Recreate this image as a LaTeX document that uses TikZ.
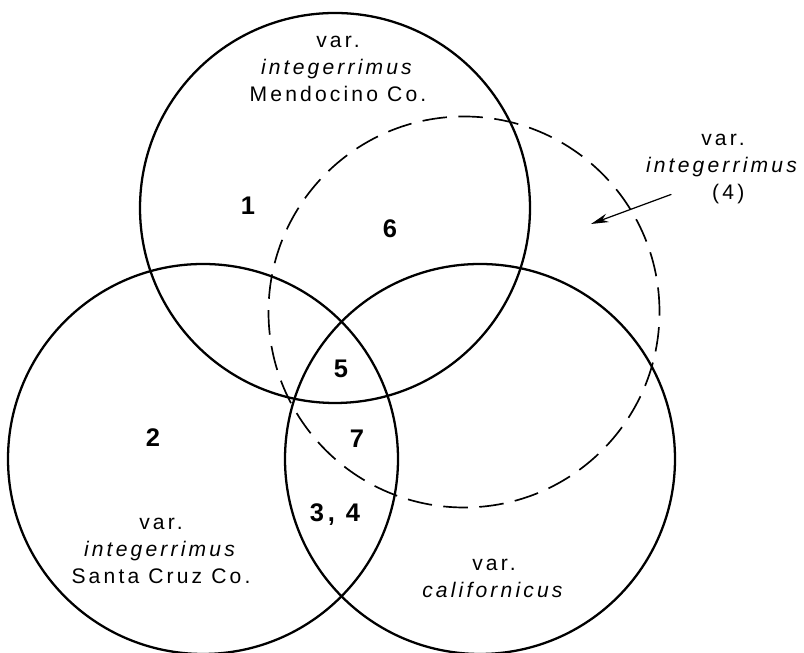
\documentclass[tikz,border=0pt]{standalone}
\usepackage{fontspec}
\setmainfont{Liberation Sans}[LetterSpace=15]
\usepackage{tikz,tkz-euclide}
\usetikzlibrary{arrows.meta}

\begin{document}
\begin{tikzpicture}[>={Stealth[length=10pt,width=5pt]}, line join=round, line cap=round,
	circ/.style={line width=1.3pt},
	dcirc/.style={line width=0.95pt, line cap=butt, dash pattern=on 14pt off 6.5pt},
	lab/.style={align=center, inner sep=0pt, font=\fontsize{12}{15.3}\selectfont},
	num/.style={inner sep=0pt, font=\fontsize{14.5}{16}\selectfont\bfseries}]
	\useasboundingbox (0,0) rectangle (16.08,13.06);
	\tkzDefPoints{6.70/8.90/T,4.06/3.88/L,9.60/3.88/R,9.28/6.82/D}
	\draw[circ] (T) circle (3.9);   % Mendocino Co.
	\draw[circ] (L) circle (3.9);   % Santa Cruz Co.
	\draw[circ] (R) circle (3.9);   % californicus
	\draw[dcirc] (D) circle (3.91); % integerrimus (4)
	% labels
	\node[lab] (mend) at (6.76,11.68) {var.\\ \textit{integerrimus}\\ Mendocino Co.};
	\node[lab] (four) at (14.46,9.68) {var.\\ \textit{integerrimus}\\ \hspace*{0.5em}(4)};
	\node[lab] (santa) at (3.22,2.04) {var.\\ \textit{integerrimus}\\ Santa Cruz Co.};
	\node[lab] (calif) at (9.88,1.50) {var.\\ \textit{californicus}};
	\coordinate (arrS) at (13.42,9.17);
	\coordinate (arrE) at (11.82,8.58);
	\draw[->, line width=0.7pt] (arrS) -- (arrE);
	% regions
	\node[num] (n1) at (4.96,8.94) {1};
	\node[num] (n6) at (7.80,8.48) {6};
	\node[num] (n5) at (6.82,5.68) {5};
	\node[num] (n2) at (3.06,4.30) {2};
	\node[num] (n7) at (7.14,4.28) {7};
	\node[num] (n34) at (6.70,2.76) {3, 4};
\end{tikzpicture}
\end{document}
